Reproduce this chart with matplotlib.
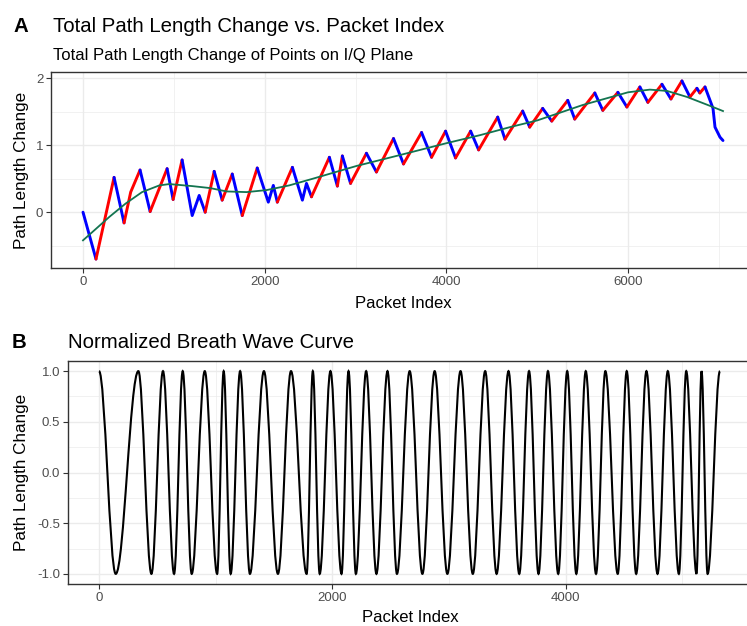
import numpy as np
import matplotlib
matplotlib.use('Agg')
import matplotlib.pyplot as plt
from matplotlib.path import Path
from matplotlib.patches import PathPatch
from matplotlib.ticker import MultipleLocator

plt.rcParams['font.family'] = ['Liberation Sans', 'DejaVu Sans']

# ~~~~~~~~ panel A: total path length change (turning points of the curve) ~~~~~~~~
path_x = [0, 143, 342, 452, 525, 628, 739, 926, 992, 1091, 1202, 1279, 1345,
          1444, 1532, 1643, 1753, 1918, 2040, 2095, 2139, 2305, 2415, 2460,
          2515, 2712, 2800, 2855, 2945, 3120, 3230, 3418, 3528, 3727, 3837,
          3991, 4101, 4267, 4355, 4565, 4645, 4840, 4917, 5060, 5160, 5336,
          5413, 5634, 5722, 5888, 5987, 6130, 6218, 6373, 6472, 6593, 6681,
          6758, 6790, 6847, 6935, 6957, 7012, 7045]
path_y = [0.00, -0.70, 0.52, -0.16, 0.30, 0.63, 0.01, 0.65, 0.19, 0.78, -0.05,
          0.25, 0.00, 0.61, 0.18, 0.57, -0.05, 0.66, 0.15, 0.40, 0.15, 0.67,
          0.18, 0.43, 0.23, 0.82, 0.39, 0.84, 0.43, 0.88, 0.60, 1.10, 0.72,
          1.19, 0.82, 1.21, 0.81, 1.21, 0.93, 1.42, 1.09, 1.51, 1.27, 1.55,
          1.36, 1.67, 1.39, 1.78, 1.52, 1.79, 1.57, 1.87, 1.64, 1.91, 1.69,
          1.96, 1.72, 1.85, 1.78, 1.87, 1.55, 1.27, 1.12, 1.07]
# colour of the piece going from point i to point i+1
seg_col = ['b', 'r', 'b', 'r', 'r', 'b', 'r', 'b', 'r', 'b', 'b', 'b', 'r',
           'b', 'r', 'b', 'r', 'b', 'b', 'b', 'r', 'b', 'b', 'b', 'r', 'b',
           'r', 'b', 'r', 'b', 'r', 'b', 'r', 'b', 'r', 'b', 'r', 'b', 'r',
           'b', 'r', 'b', 'r', 'b', 'r', 'b', 'r', 'b', 'r', 'b', 'r', 'b',
           'r', 'b', 'r', 'b', 'r', 'b', 'r', 'b', 'b', 'b', 'b']

# smoothed trend
trend_x = [0, 100, 290, 470, 650, 840, 950, 1200, 1400, 1580, 1800, 2020, 2270,
           2530, 3010, 3480, 4000, 4370, 4700, 5000, 5500, 6000, 6240, 6430,
           6650, 6935, 7045]
trend_y = [-0.42, -0.30, -0.07, 0.13, 0.30, 0.40, 0.42, 0.39, 0.36, 0.31, 0.30,
           0.33, 0.40, 0.50, 0.69, 0.85, 1.03, 1.15, 1.27, 1.37, 1.60, 1.79,
           1.83, 1.81, 1.72, 1.57, 1.51]

# ~~~~~~~~ panel B: normalized breath wave (peaks and troughs) ~~~~~~~~
wave_x = [0, 143, 337, 449, 548, 643, 717, 794, 906, 1012, 1068, 1128, 1209,
          1293, 1413, 1533, 1645, 1779, 1832, 1891, 1983, 2078, 2138, 2201,
          2289, 2377, 2472, 2553, 2662, 2771, 2876, 2985, 3098, 3203, 3309,
          3407, 3509, 3601, 3685, 3766, 3847, 3935, 4012, 4090, 4171, 4259,
          4339, 4445, 4522, 4603, 4691, 4786, 4874, 4969, 5032, 5120, 5163,
          5215, 5321]
wave_y = [1, -1] * 29 + [1]

W, H = 747, 626
fig = plt.figure(figsize=(W / 100, H / 100), dpi=100)


def px_axes(l, t, r, b):
    return fig.add_axes([l / W, 1 - b / H, (r - l) / W, (b - t) / H])


def style(ax):
    for s in ax.spines.values():
        s.set_color('#333333')
        s.set_linewidth(1.0)
    ax.grid(which='major', color='#EBEBEB', lw=1.0)
    ax.grid(which='minor', color='#EBEBEB', lw=0.5)
    ax.set_axisbelow(True)
    ax.tick_params(which='major', length=3.5, width=0.8, color='#333333',
                   labelcolor='#4D4D4D', labelsize=9.5, pad=2)
    ax.tick_params(which='minor', length=0)


def expand(lo, hi, f=0.05):
    d = (hi - lo) * f
    return lo - d, hi + d


# ---- A ----
axA = px_axes(51, 72, 755, 268)
style(axA)
i = 0
while i < len(seg_col):
    j = i
    while j + 1 < len(seg_col) and seg_col[j + 1] == seg_col[i]:
        j += 1
    c = '#FF0000' if seg_col[i] == 'r' else '#0000FF'
    axA.plot(path_x[i:j + 2], path_y[i:j + 2], color=c, lw=2.1,
             solid_joinstyle='round', solid_capstyle='round', zorder=2)
    i = j + 1
axA.plot(trend_x, trend_y, color='#137450', lw=1.3, zorder=3)
axA.set_xlim(*expand(min(path_x), max(path_x)))
axA.set_ylim(*expand(min(path_y), max(path_y)))
axA.xaxis.set_major_locator(MultipleLocator(2000))
axA.xaxis.set_minor_locator(MultipleLocator(1000))
axA.yaxis.set_major_locator(MultipleLocator(1))
axA.yaxis.set_minor_locator(MultipleLocator(0.5))

# ---- B ----
axB = px_axes(68, 361, 751, 584)
style(axB)
k = 0.36
verts = [(wave_x[0], wave_y[0])]
codes = [Path.MOVETO]
for n in range(1, len(wave_x)):
    x0, y0 = wave_x[n - 1], wave_y[n - 1]
    x1, y1 = wave_x[n], wave_y[n]
    dx = x1 - x0
    verts += [(x0 + k * dx, y0), (x1 - k * dx, y1), (x1, y1)]
    codes += [Path.CURVE4] * 3
axB.add_patch(PathPatch(Path(verts, codes), fill=False, ec='black', lw=1.5,
                        zorder=2))
axB.set_xlim(*expand(min(wave_x), max(wave_x)))
axB.set_ylim(-1.1, 1.1)
axB.xaxis.set_major_locator(MultipleLocator(2000))
axB.xaxis.set_minor_locator(MultipleLocator(1000))
axB.yaxis.set_major_locator(MultipleLocator(0.5))
axB.yaxis.set_minor_locator(MultipleLocator(0.25))
axB.set_yticks([-1, -0.5, 0, 0.5, 1])
axB.set_yticklabels(['-1.0', '-0.5', '0.0', '0.5', '1.0'])

# ---- text ----
fig.text(13 / W, 1 - 32 / H, 'A', fontsize=14.7, fontweight='bold', va='baseline')
fig.text(53 / W, 1 - 32 / H, 'Total Path Length Change vs. Packet Index',
         fontsize=14.7, va='baseline')
fig.text(53 / W, 1 - 60 / H, 'Total Path Length Change of Points on I/Q Plane',
         fontsize=12, va='baseline')
fig.text(12 / W, 1 - 348 / H, 'B', fontsize=14.7, fontweight='bold', va='baseline')
fig.text(68 / W, 1 - 348 / H, 'Normalized Breath Wave Curve',
         fontsize=14.7, va='baseline')

fig.text(403 / W, 1 - 304 / H, 'Packet Index', fontsize=12, ha='center', va='center')
fig.text(410 / W, 1 - 617 / H, 'Packet Index', fontsize=12, ha='center', va='center')
fig.text(22 / W, 1 - 170 / H, 'Path Length Change', fontsize=12.3,
         rotation=90, ha='center', va='center')
fig.text(22 / W, 1 - 472 / H, 'Path Length Change', fontsize=12.3,
         rotation=90, ha='center', va='center')

plt.savefig('out.png', dpi=100)
plt.close()
